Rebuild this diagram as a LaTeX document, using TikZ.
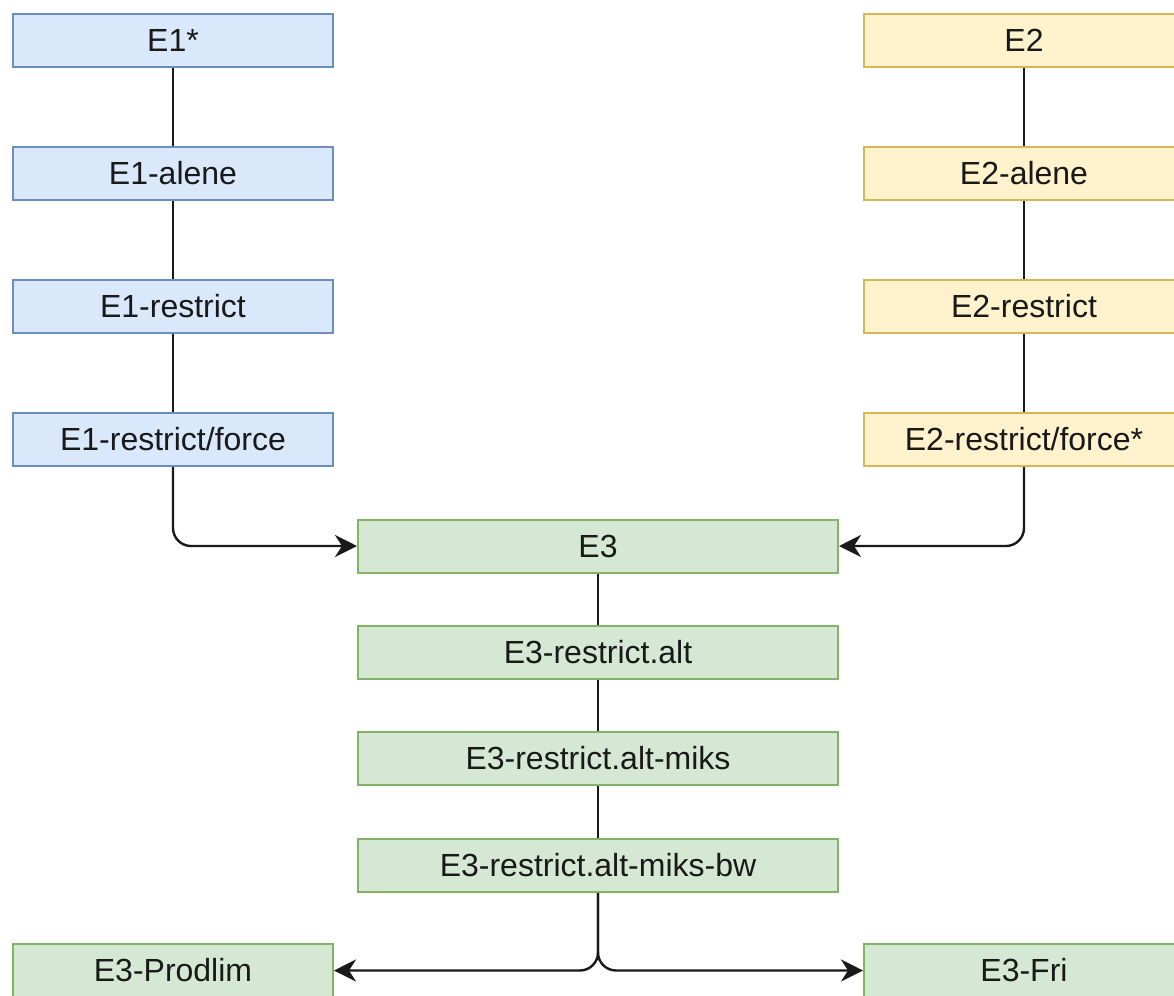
\documentclass[tikz,border=0pt]{standalone}
\usepackage{fontspec}
\setmainfont{Liberation Sans}
\usetikzlibrary{arrows.meta}
\definecolor{bluefill}{HTML}{DAE8FC}
\definecolor{bluedraw}{HTML}{6C8EBF}
\definecolor{yelfill}{HTML}{FFF2CC}
\definecolor{yeldraw}{HTML}{D6B656}
\definecolor{grnfill}{HTML}{D5E8D4}
\definecolor{grndraw}{HTML}{82B366}
\tikzset{
  box/.style={rectangle, minimum width=320bp, minimum height=53bp, inner sep=0pt,
    line width=2bp, font=\fontsize{32bp}{38bp}\selectfont, text=black!90},
  wide/.style={minimum width=480bp},
  bluebox/.style={box, fill=bluefill, draw=bluedraw},
  yelbox/.style={box, fill=yelfill, draw=yeldraw},
  grnbox/.style={box, fill=grnfill, draw=grndraw},
  link/.style={line width=2.4bp, black!90},
  flow/.style={link, rounded corners=18bp, -{Stealth[length=22bp, width=22bp, inset=7bp]}}
}
\begin{document}
\begin{tikzpicture}[x=1bp, y=-1bp]
\useasboundingbox (0,0) rectangle (1174,996);

% left chain
\node[bluebox] (e1)  at (173,40.5)  {E1*};
\node[bluebox] (e1a) at (173,173.5) {E1-alene};
\node[bluebox] (e1r) at (173,306.5) {E1-restrict};
\node[bluebox] (e1f) at (173,439.5) {E1-restrict/force};

% right chain
\node[yelbox] (e2)  at (1024,40.5)  {E2};
\node[yelbox] (e2a) at (1024,173.5) {E2-alene};
\node[yelbox] (e2r) at (1024,306.5) {E2-restrict};
\node[yelbox] (e2f) at (1024,439.5) {E2-restrict/force*};

% middle chain
\node[grnbox, wide] (e3)  at (598,546)   {E3};
\node[grnbox, wide] (e3a) at (598,652.5) {E3-restrict.alt};
\node[grnbox, wide] (e3m) at (598,758.5) {E3-restrict.alt-miks};
\node[grnbox, wide] (e3b) at (598,865.5) {E3-restrict.alt-miks-bw};

% end points
\node[grnbox] (pl)  at (173,970.5)  {E3-Prodlim};
\node[grnbox] (fri) at (1024,970.5) {E3-Fri};

% plain links
\draw[link] (e1) -- (e1a);
\draw[link] (e1a) -- (e1r);
\draw[link] (e1r) -- (e1f);
\draw[link] (e2) -- (e2a);
\draw[link] (e2a) -- (e2r);
\draw[link] (e2r) -- (e2f);
\draw[link] (e3) -- (e3a);
\draw[link] (e3a) -- (e3m);
\draw[link] (e3m) -- (e3b);

% arrows
\draw[flow] (e1f.south) |- (e3.west);
\draw[flow] (e2f.south) |- (e3.east);
\draw[flow] (e3b.south) |- (pl.east);
\draw[flow] (e3b.south) |- (fri.west);
\end{tikzpicture}
\end{document}
